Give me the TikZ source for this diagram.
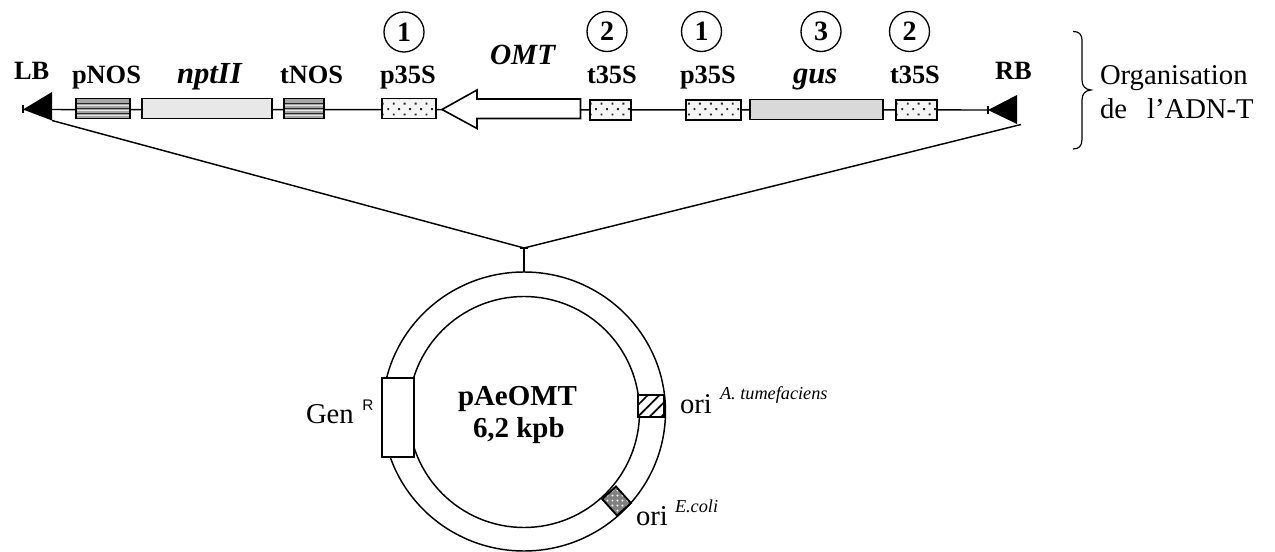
\documentclass[tikz,border=0pt]{standalone}
\usepackage{fontspec}
\setmainfont{Liberation Serif}
\setsansfont{Liberation Sans}
\usetikzlibrary{patterns.meta}
\newcommand{\fs}[1]{\fontsize{#1}{#1}\selectfont}
\tikzset{
  x=.75pt,y=-.75pt,
  ln/.style={line width=1.1pt,black},
  gene/.style={draw,line width=1.4pt,inner sep=0pt,outer sep=0pt,rectangle},
  dotted box/.style={gene,minimum height=15pt,preaction={fill=black!4},
    pattern={Dots[angle=45,distance=5.8pt,radius=1pt]},pattern color=black!85},
  striped box/.style={gene,minimum height=15pt,fill=black!35,
    path picture={
      \foreach \o in {3.75,0,-3.75}{
        \draw[line width=1.2pt,black!85] ([yshift=\o pt]path picture bounding box.west) -- ([yshift=\o pt]path picture bounding box.east);
        \draw[line width=.7pt,white!90!black] ([yshift=\o pt-1.6pt]path picture bounding box.west) -- ([yshift=\o pt-1.6pt]path picture bounding box.east);
      }}},
  plain box/.style={gene,minimum height=15pt},
  lab/.style={anchor=base west,inner sep=0pt,outer sep=0pt,font=\fs{19.8}\bfseries},
  ilab/.style={lab,font=\fs{23}\bfseries\itshape},
  txt/.style={anchor=base west,inner sep=0pt,outer sep=0pt,font=\fs{21.5}},
  sup/.style={anchor=base west,inner sep=0pt,outer sep=0pt,font=\fs{13.7}\itshape},
  num/.style={circle,draw,line width=1pt,minimum size=30pt,inner sep=0pt,font=\fs{21}\bfseries},
}
\begin{document}
\begin{tikzpicture}
\useasboundingbox (0,0) rectangle (1275,552);
% anchor points
\coordinate (LBtip) at (23,109.5);
\coordinate (LBtop) at (52,92);
\coordinate (LBbot) at (52,120.5);
\coordinate (RBtip) at (988,110);
\coordinate (RBtop) at (1017,95);
\coordinate (RBbot) at (1017,124);
\coordinate (RBend) at (1021,124.5);
\coordinate (join) at (524,248);
\coordinate (ringtop) at (524,272);
% backbone
\draw[ln] (LBtip) -- (RBtip);
\draw[line width=.8pt] ([yshift=3pt]LBtip) -- ([yshift=-3pt]LBtip);
\draw[line width=.8pt] ([yshift=3pt]RBtip) -- ([yshift=-3pt]RBtip);
% borders
\fill (LBtip) -- (LBtop) -- (LBbot) -- cycle;
\fill (RBtip) -- (RBtop) -- (RBbot) -- cycle;
% genes
\node[striped box,minimum width=40.5pt] (pnos) at (103,108.5) {};
\node[plain box,fill=black!9,minimum width=97.5pt] (npt) at (207,108.5) {};
\node[striped box,minimum width=30pt] (tnos) at (304,108.5) {};
\node[dotted box,minimum width=40.5pt] (p1) at (409,108.5) {};
\fill[white] (442,109.5) -- (477,90) -- (477,99) -- (580.5,99) -- (580.5,118.5) -- (477,118.5) -- (477,128.5) -- cycle;
\draw[line width=1.2pt,line join=miter] (442,109.5) -- (477,90) -- (477,99) -- (580.5,99) -- (580.5,118.5) -- (477,118.5) -- (477,128.5) -- cycle;
\node[dotted box,minimum width=31pt] (t1) at (610.5,110) {};
\node[dotted box,minimum width=41pt] (p2) at (713.5,110) {};
\node[plain box,fill=black!15,minimum width=100pt] (gus) at (816.5,109.5) {};
\node[dotted box,minimum width=31pt] (t2) at (916.5,110) {};
% numbers
\node[num] (n1) at (404,32) {1};
\node[num] (n2) at (607,31.5) {2};
\node[num] (n3) at (701.5,31.5) {1};
\node[num] (n4) at (821,31.5) {3};
\node[num] (n5) at (909.5,31.5) {2};
% labels
\node[lab] (lb) at (14,80) {LB};
\node[lab] (lpnos) at (72,84) {pNOS};
\node[ilab] (lnpt) at (177,84) {nptII};
\node[lab] (ltnos) at (280,84) {tNOS};
\node[lab] (lp1) at (380,84) {p35S};
\node[ilab,font=\fs{22}\bfseries\itshape] (lomt) at (490,65) {OMT};
\node[lab] (lt1) at (587,84) {t35S};
\node[lab] (lp2) at (680,84) {p35S};
\node[ilab] (lgus) at (793,84) {gus};
\node[lab] (lt2) at (890,84) {t35S};
\node[lab] (rb) at (995,80) {RB};
% brace
\draw[line width=.9pt] (1073,31.5) .. controls (1079,31.5) and (1082,34) .. (1082,41) -- (1082,80)
  .. controls (1082,86) and (1085,89.5) .. (1091,90) .. controls (1085,90.5) and (1082,94) .. (1082,100)
  -- (1082,139) .. controls (1082,146) and (1079,149) .. (1073,149);
\node[txt] (org1) at (1100,85) {Organisation};
\node[txt] (org2) at (1100,119) {de\hspace{15pt}l’ADN-T};
% insertion lines
\draw[ln] (LBbot) -- (join) -- (RBend);
\draw[ln] (join) -- (ringtop);
\draw[line width=.8pt] (520,248) -- (528,248);
% plasmid
\draw[ln] (524,411.5) ellipse [x radius=141.5,y radius=139.5];
\draw[ln] (524,412) circle [radius=115.5];
\node[gene,fill=white,minimum width=24pt,minimum height=59pt] (gen) at (398,417.5) {};
\node[gene,preaction={fill=white},pattern={Lines[angle=45,distance=6.2pt,line width=1.3pt]},minimum width=19.5pt,minimum height=16.5pt] (oria) at (651,406) {};
\node[gene,rotate=-48,preaction={fill=black!50},pattern={Dots[distance=4pt,radius=.9pt]},pattern color=white,minimum width=16.7pt,minimum height=14pt] (orie) at (616.5,501) {};
% plasmid labels
\node[lab,font=\fs{21.7}\bfseries] (pname) at (458,405) {pAeOMT};
\node[lab,font=\fs{21.7}\bfseries] (psize) at (473,437) {6,2 kpb};
\node[txt] (lgen) at (306,423) {Gen};
\node[anchor=base west,inner sep=0pt,font=\fs{11.5}\sffamily] (lr) at (362,410) {R};
\node[txt] (lori1) at (680,413) {ori};
\node[sup] (lsa) at (720,400) {A. tumefaciens};
\node[txt] (lori2) at (636,525) {ori};
\node[sup] (lse) at (675,512) {E.coli};
\end{tikzpicture}
\end{document}
